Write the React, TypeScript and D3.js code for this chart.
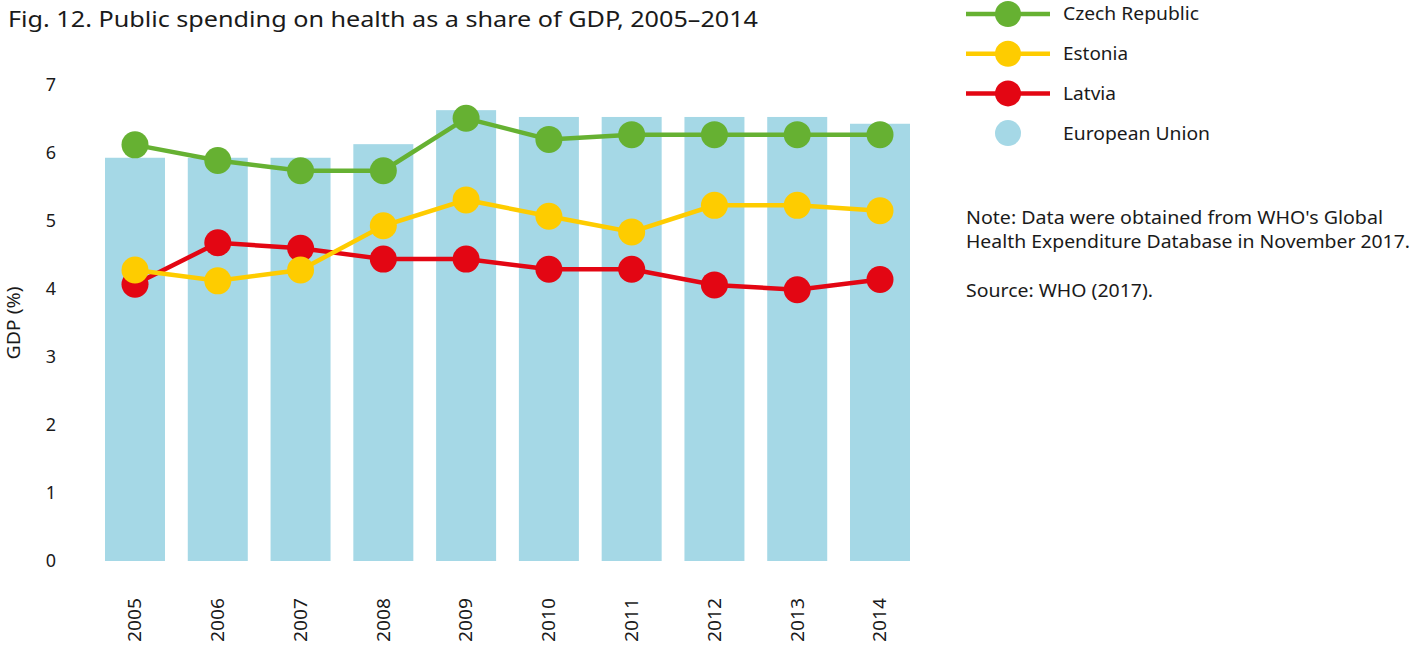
import React from 'react';
import * as d3 from 'd3';

const years = ['2005', '2006', '2007', '2008', '2009', '2010', '2011', '2012', '2013', '2014'];
const euValues = [5.93, 5.93, 5.93, 6.13, 6.63, 6.53, 6.53, 6.53, 6.53, 6.43];
const czechValues = [6.12, 5.89, 5.74, 5.74, 6.51, 6.2, 6.27, 6.27, 6.27, 6.27];
const estoniaValues = [4.28, 4.12, 4.28, 4.93, 5.31, 5.07, 4.84, 5.23, 5.23, 5.15];
const latviaValues = [4.07, 4.68, 4.6, 4.44, 4.44, 4.29, 4.29, 4.06, 3.99, 4.14];
const yTicks = [0, 1, 2, 3, 4, 5, 6, 7];

const series = [
  { name: 'Latvia', color: '#e30613', values: latviaValues },
  { name: 'Estonia', color: '#fecc00', values: estoniaValues },
  { name: 'Czech Republic', color: '#66b132', values: czechValues },
];

const legendItems = [
  { name: 'Czech Republic', color: '#66b132', line: true, len: 136 },
  { name: 'Estonia', color: '#fecc00', line: true, len: 65 },
  { name: 'Latvia', color: '#e30613', line: true, len: 53 },
  { name: 'European Union', color: '#a5d8e6', line: false, len: 147 },
];

const noteLines = [
  { text: "Note: Data were obtained from WHO's Global", y: 224, len: 417 },
  { text: 'Health Expenditure Database in November 2017.', y: 248, len: 444 },
  { text: 'Source: WHO (2017).', y: 297, len: 187 },
];

const font = '"Noto Sans", "Open Sans", sans-serif';

export default function App() {
  const x = d3.scalePoint<string>().domain(years).range([135, 880]);
  const y = d3.scaleLinear().domain([0, 7]).range([561, 85]);
  const barW = 60;
  const line = d3
    .line<number>()
    .x((_, i) => x(years[i]) as number)
    .y((d) => y(d));

  return (
    <svg
      width={1428}
      height={669}
      style={{ position: 'absolute', left: 0, top: 0, background: '#fff' }}
      fontFamily={font}
    >
      <text x={8} y={27} fontSize={21.5} fill="#1a1a1a" textLength={750} lengthAdjust="spacingAndGlyphs">
        Fig. 12. Public spending on health as a share of GDP, 2005–2014
      </text>

      {/* y axis */}
      {yTicks.map((t) => (
        <text key={t} x={51} y={y(t)} dy="0.35em" textAnchor="middle" fontSize={18} fill="#1a1a1a">
          {t}
        </text>
      ))}
      <text
        transform={`translate(14,323) rotate(-90)`}
        textAnchor="middle"
        dy="0.35em"
        fontSize={18}
        fill="#1a1a1a"
        textLength={73}
        lengthAdjust="spacingAndGlyphs"
      >
        GDP (%)
      </text>

      {/* EU bars */}
      {euValues.map((v, i) => (
        <rect
          key={years[i]}
          x={(x(years[i]) as number) - barW / 2}
          y={y(v)}
          width={barW}
          height={y(0) - y(v)}
          fill="#a5d8e6"
        />
      ))}

      {/* x labels */}
      {years.map((yr) => (
        <text
          key={yr}
          transform={`translate(${x(yr)},620) rotate(-90)`}
          textAnchor="middle"
          dy="0.35em"
          fontSize={18}
          fill="#1a1a1a"
          textLength={44}
          lengthAdjust="spacingAndGlyphs"
        >
          {yr}
        </text>
      ))}

      {/* country lines */}
      {series.map((s) => (
        <g key={s.name}>
          <path d={line(s.values) || ''} fill="none" stroke={s.color} strokeWidth={4.5} />
          {s.values.map((v, i) => (
            <circle key={i} cx={x(years[i])} cy={y(v)} r={13.5} fill={s.color} />
          ))}
        </g>
      ))}

      {/* legend */}
      {legendItems.map((d, i) => {
        const ly = 14 + i * 39.7;
        return (
          <g key={d.name}>
            {d.line && <line x1={966} x2={1050} y1={ly} y2={ly} stroke={d.color} strokeWidth={4.5} />}
            <circle cx={1008} cy={ly} r={13} fill={d.color} />
            <text
              x={1063}
              y={ly}
              dy="0.35em"
              fontSize={18.5}
              fill="#1a1a1a"
              textLength={d.len}
              lengthAdjust="spacingAndGlyphs"
            >
              {d.name}
            </text>
          </g>
        );
      })}

      {noteLines.map((n) => (
        <text
          key={n.text}
          x={966}
          y={n.y}
          fontSize={18}
          fill="#1a1a1a"
          textLength={n.len}
          lengthAdjust="spacingAndGlyphs"
        >
          {n.text}
        </text>
      ))}
    </svg>
  );
}
